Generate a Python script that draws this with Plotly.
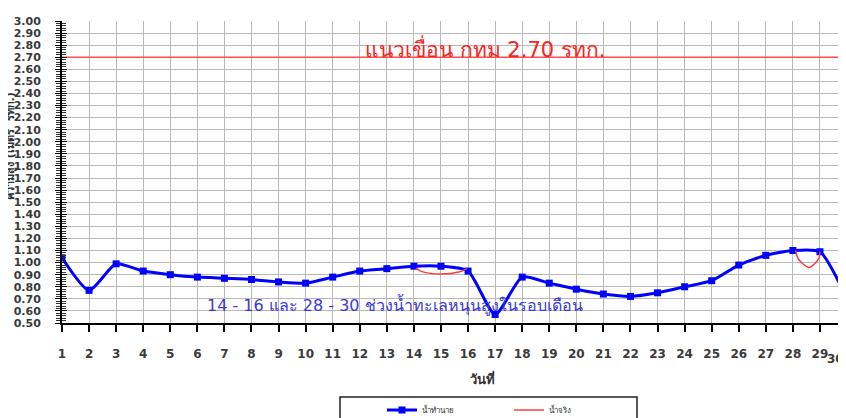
import plotly.graph_objects as go

days = list(range(1, 31))
forecast = [1.04, 0.77, 0.99, 0.93, 0.90, 0.88, 0.87, 0.86, 0.84, 0.83,
            0.88, 0.93, 0.95, 0.97, 0.97, 0.93, 0.57, 0.88, 0.83, 0.78,
            0.74, 0.72, 0.75, 0.80, 0.85, 0.98, 1.06, 1.10, 1.09, 0.70]
actual_x1 = [14.07, 14.3, 15.0, 15.7, 15.95]
actual_y1 = [0.955, 0.925, 0.905, 0.925, 0.95]
actual_x2 = [28.1, 28.2, 28.6, 28.95, 29.0]
actual_y2 = [1.10, 1.03, 0.96, 1.03, 1.09]
dike_level = 2.70
y_ticks = [round(0.5 + 0.1 * i, 2) for i in range(26)]

FONT = "Tahoma, 'DejaVu Sans', 'Noto Sans', sans-serif"
OFF = 8  # page body margin
W, H = 846 - OFF, 418 - OFF
L, T, B = 62 - OFF, 21 - OFF, 323 - OFF
PW = W - L
PH = B - T


def px(xp):
    return (xp - OFF - L) / PW


def py(yp):
    return (B - (yp - OFF)) / PH


fig = go.Figure()
fig.add_trace(go.Scatter(x=[1, 30], y=[dike_level, dike_level], mode="lines",
                         line=dict(color="#ff4d4d", width=1.5), showlegend=False,
                         hoverinfo="skip"))
fig.add_trace(go.Scatter(x=days, y=forecast, mode="lines+markers", name="น้ำทำนาย",
                         line=dict(color="#0000ff", width=3, shape="spline", smoothing=0.6),
                         marker=dict(symbol="square", size=7, color="#0000ff")))
fig.add_trace(go.Scatter(x=actual_x1, y=actual_y1, mode="lines", name="น้ำจริง",
                         line=dict(color="#ff3b3b", width=1.5, shape="spline", smoothing=0.8)))
fig.add_trace(go.Scatter(x=actual_x2, y=actual_y2, mode="lines", name="น้ำจริง",
                         line=dict(color="#ff3b3b", width=1.5, shape="spline", smoothing=0.8),
                         showlegend=False))
# overlay axis for inner minor ticks
fig.add_trace(go.Scatter(x=[None], y=[None], yaxis="y2", showlegend=False))

xmax = 1 + PW / 27.07
fig.update_layout(
    width=W, height=H,
    margin=dict(l=L, r=0, t=T, b=H - B, autoexpand=False),
    plot_bgcolor="white", paper_bgcolor="white",
    font=dict(family=FONT, color="#333333"),
    xaxis=dict(range=[1, xmax], tickmode="array", tickvals=days,
               ticktext=[f"<b>{d}</b>" for d in days], showgrid=True, gridcolor="#b8b8b8",
               gridwidth=1, showline=True, linecolor="black", linewidth=1.5,
               ticks="outside", ticklen=7, tickcolor="black", tickwidth=1.5,
               ticklabelstandoff=12, tickfont=dict(size=12, color="#3a3a3a"),
               zeroline=False, automargin=False),
    yaxis=dict(range=[0.5, 3.0], tickmode="array", tickvals=y_ticks,
               ticktext=[f"<b>{v:.2f}</b>" for v in y_ticks], showgrid=True,
               gridcolor="#b8b8b8", gridwidth=1, showline=True, linecolor="black",
               linewidth=2, ticks="outside", ticklen=5, tickcolor="black",
               ticklabelstandoff=12, tickfont=dict(size=11, color="#3a3a3a"),
               minor=dict(dtick=0.02, ticks="outside", ticklen=4, tickcolor="#333",
                          tickwidth=0.8, showgrid=False),
               zeroline=False, automargin=False),
    yaxis2=dict(range=[0.5, 3.0], overlaying="y", side="left", showgrid=False,
                showticklabels=False, ticks="inside", ticklen=5, tickcolor="black",
                dtick=0.1, tick0=0.5, automargin=False,
                minor=dict(dtick=0.02, ticks="inside", ticklen=4, tickcolor="#333",
                           tickwidth=0.8),
                zeroline=False, showline=False),
    legend=dict(orientation="h", x=px(382), xanchor="left",
                y=py(410), yanchor="middle", font=dict(size=8, color="#333"),
                bgcolor="rgba(0,0,0,0)", entrywidth=82, itemwidth=30),
    showlegend=True,
)

fig.add_shape(type="rect", xref="paper", yref="paper",
              x0=px(340), x1=px(637), y0=py(397), y1=py(430),
              line=dict(color="#222", width=1.5), fillcolor="rgba(0,0,0,0)")


def note(text, x, y, size, color, xanchor="center", xref="paper", **kw):
    fig.add_annotation(text=text, xref=xref, yref="paper", x=x, y=y,
                       xanchor=xanchor, yanchor="middle", showarrow=False,
                       font=dict(size=size, color=color, family=FONT), **kw)


note("แนวเขื่อน กทม 2.70 รทก.", px(485), py(48), 21, "#ff2020")
note("14 - 16 และ 28 - 30 ช่วงน้ำทะเลหนุนสูงในรอบเดือน", px(395), py(305), 16, "#3838d8")
note("<b>วันที่</b>", px(482), py(378), 13, "#333")
note("<b>ความสูง (เมตร  รทก.)</b>", 0, py(146), 11, "#333", xshift=-(L - 3), textangle=-90)
note("<b>30</b>", 1.0, py(352), 12, "#3a3a3a", xanchor="right", yshift=-7)

fig.write_html("out.html")
